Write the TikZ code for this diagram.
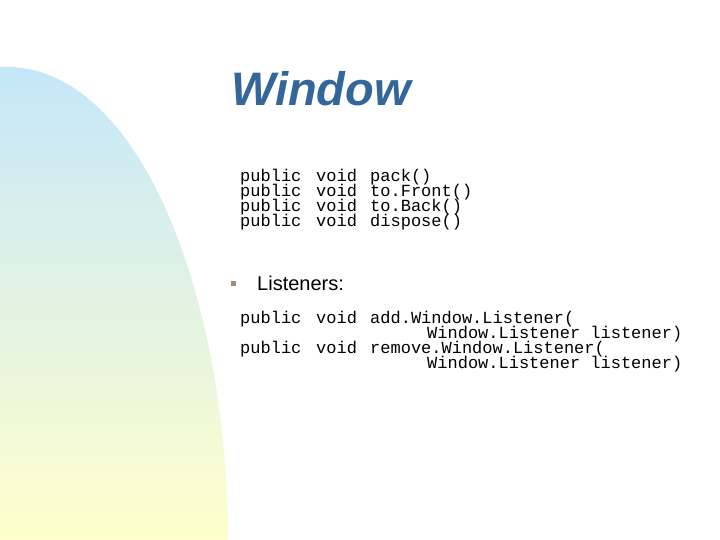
\documentclass[tikz,border=0pt]{standalone}
\usepackage{fontspec}
\setmainfont{Liberation Sans}
\setmonofont{Liberation Mono}
\definecolor{titleblue}{HTML}{336699}
\definecolor{bulletbrown}{HTML}{A08C78}
\definecolor{bandtop}{RGB}{196,230,250}
\definecolor{bandbot}{RGB}{255,255,204}
\tikzset{%
	code/.style  = {anchor=base west, inner sep=0pt, font=\fontsize{17bp}{15bp}\selectfont\ttfamily},
	title/.style = {anchor=base west, inner sep=0pt, text=titleblue, font=\fontsize{47bp}{48bp}\selectfont\bfseries\itshape},
}
\begin{document}
\begin{tikzpicture}[x=1bp,y=-1bp]
		\useasboundingbox (0,0) rectangle (720,540);
		% background band
		\shade[top color=bandtop, bottom color=bandbot, draw=none]
			(0,67) .. controls (140,60) and (228,300) .. (228,540) -- (0,540) -- cycle;
		
		\node[title] (ttl) at (231,106) {Window};
		
		% methods
		\foreach \n/\m [count=\i] in {pack()/pack,to.Front()/front,to.Back()/back,dispose()/dispose} {
			\node[code] (pub\m) at (240,{177+15*(\i-1)+5}) {public};
			\node[code] (void\m) at (316,{177+15*(\i-1)+5}) {void};
			\node[code] (\m) at (370,{177+15*(\i-1)+5}) {\n};
		}
		
		% listeners
		\node[fill=bulletbrown, minimum size=5bp, inner sep=0pt] (bul) at (233,283) {};
		\node[anchor=base west, inner sep=0pt, font=\fontsize{20bp}{24bp}\selectfont] (lst) at (257,290) {Listeners:};
		
		\node[code] (pubadd) at (240,323) {public};
		\node[code] (voidadd) at (316,323) {void};
		\node[code] (add) at (370,323) {add.Window.Listener(};
		\node[code] (addarg) at (427,338) {Window.Listener listener)};
		\node[code] (pubrem) at (240,353) {public};
		\node[code] (voidrem) at (316,353) {void};
		\node[code] (rem) at (370,353) {remove.Window.Listener(};
		\node[code] (remarg) at (427,368) {Window.Listener listener)};
\end{tikzpicture}
\end{document}
